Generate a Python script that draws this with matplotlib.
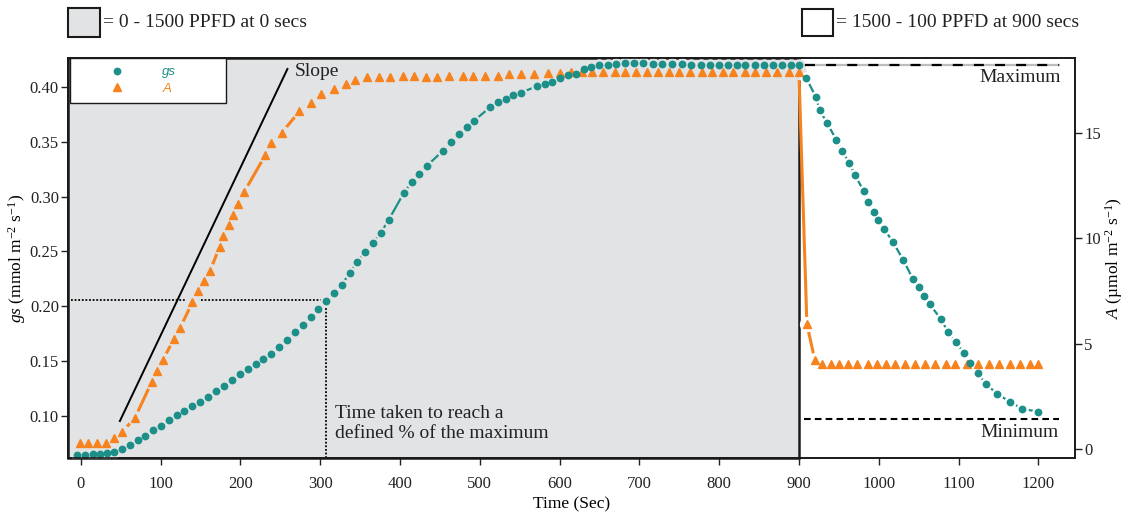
import numpy as np
import matplotlib
matplotlib.use("Agg")
import matplotlib.pyplot as plt
from matplotlib.patches import Rectangle

plt.rcParams['font.family'] = ['Liberation Serif', 'DejaVu Serif']
plt.rcParams['mathtext.fontset'] = 'custom'
plt.rcParams['mathtext.rm'] = 'Liberation Serif'
plt.rcParams['mathtext.it'] = 'Liberation Serif:italic'

# --- data ---
# stomatal conductance gs (left axis), time in seconds
gs_time = [-5, 5, 15, 24, 33, 42, 52, 62, 72, 81, 91, 101, 111, 120, 130, 140, 150, 160,
           170, 179, 189, 199, 209, 219, 228, 238, 248, 258, 268, 278, 288, 297, 307,
           317, 327, 337, 346, 356, 366, 376, 386, 405, 415, 424, 434, 454, 464, 474,
           484, 493, 513, 523, 533, 542, 552, 572, 582, 591, 601, 611, 621, 631, 640,
           650, 661, 671, 682, 693, 704, 717, 729, 741, 753, 765, 777, 788, 800, 811,
           822, 833, 845, 856, 868, 879, 890, 900,
           909, 921, 926, 935, 947, 954, 963, 970, 981, 987, 994, 999, 1007, 1018,
           1031, 1043, 1050, 1057, 1064, 1078, 1087, 1097, 1107, 1115, 1124, 1134,
           1148, 1165, 1180, 1200]
gs_value = [0.0645, 0.0645, 0.0655, 0.0657, 0.0661, 0.0673, 0.0700, 0.0736, 0.0779,
            0.0820, 0.0870, 0.0910, 0.0961, 0.1009, 0.1047, 0.1088, 0.1131, 0.1176,
            0.1231, 0.1276, 0.1328, 0.1380, 0.1426, 0.1474, 0.1517, 0.1565, 0.1627,
            0.1696, 0.1766, 0.1830, 0.1900, 0.1971, 0.2051, 0.2123, 0.2197, 0.2301,
            0.2401, 0.2495, 0.2578, 0.2669, 0.2790, 0.3036, 0.3134, 0.3207, 0.3283,
            0.3419, 0.3498, 0.3571, 0.3635, 0.3693, 0.3815, 0.3866, 0.3894, 0.3927,
            0.3948, 0.4009, 0.4027, 0.4048, 0.4079, 0.4109, 0.4119, 0.4164, 0.4181,
            0.4201, 0.4201, 0.4207, 0.4216, 0.4216, 0.4216, 0.4210, 0.4210, 0.4210,
            0.4210, 0.4201, 0.4201, 0.4201, 0.4201, 0.4201, 0.4201, 0.4201, 0.4201,
            0.4201, 0.4201, 0.4201, 0.4201, 0.4201,
            0.4085, 0.3912, 0.3790, 0.3674, 0.3517, 0.3416, 0.3310, 0.3200, 0.3054,
            0.2954, 0.2857, 0.2787, 0.2705, 0.2584, 0.2420, 0.2247, 0.2179, 0.2094,
            0.2019, 0.1882, 0.1766, 0.1672, 0.1572, 0.1486, 0.1392, 0.1295, 0.1203,
            0.1128, 0.1064, 0.1040]

# net assimilation A (right axis)
a_time = [-1, 9, 20, 32, 42, 52, 68, 89, 96, 103, 117, 124, 140, 147, 154, 162, 174,
          178, 186, 191, 197, 205, 231, 239, 252, 274, 288, 301, 317, 333, 344, 359,
          374, 388, 404, 418, 433, 447, 462, 479, 492, 507, 523, 537, 552, 568, 585,
          601, 614, 628, 641, 655, 669, 682, 696, 710, 723, 737, 750, 764, 778, 791,
          805, 818, 832, 845, 859, 873, 887, 900,
          910, 920, 929, 940, 950, 962, 973, 986, 998, 1009, 1021, 1033, 1045, 1058,
          1070, 1084, 1096, 1111, 1125, 1138, 1151, 1164, 1177, 1189, 1200]
a_value = [0.30, 0.30, 0.30, 0.30, 0.55, 0.83, 1.50, 3.20, 3.71, 4.25, 5.24, 5.73,
           6.97, 7.50, 7.98, 8.45, 9.60, 10.12, 10.63, 11.10, 11.63, 12.21, 13.93,
           14.52, 15.01, 16.02, 16.43, 16.84, 17.08, 17.30, 17.52, 17.63, 17.63,
           17.63, 17.70, 17.70, 17.66, 17.66, 17.69, 17.69, 17.69, 17.69, 17.72,
           17.78, 17.81, 17.81, 17.84, 17.86, 17.87, 17.88, 17.88, 17.88, 17.88,
           17.88, 17.88, 17.88, 17.88, 17.88, 17.88, 17.88, 17.88, 17.88, 17.88,
           17.88, 17.88, 17.88, 17.88, 17.88, 17.88, 17.88,
           5.93, 4.23, 4.03, 4.03, 4.03, 4.03, 4.03, 4.03, 4.03, 4.03, 4.03, 4.03,
           4.03, 4.03, 4.03, 4.03, 4.03, 4.03, 4.03, 4.03, 4.03, 4.03, 4.03, 4.03, 4.03]

light_switch = 900          # high light until this time
slope_x = [49, 259]
slope_y = [0.0954, 0.4164]
target_time = 307           # time to reach the defined %
target_gs = 0.2055
max_gs = 0.4200
min_gs = 0.0970

x_ticks = list(range(0, 1201, 100))
gs_ticks = [0.10, 0.15, 0.20, 0.25, 0.30, 0.35, 0.40]
a_ticks = [0, 5, 10, 15]

teal = '#1b8f88'
orange = '#f7831f'
grey_bg = '#e2e3e5'
ink = '#1a1a1a'
txt_col = '#222222'

fig = plt.figure(figsize=(11.3, 5.13), dpi=100)
ax = fig.add_axes([68 / 1130, 1 - 458 / 513, 1007 / 1130, 400 / 513])
ax2 = ax.twinx()
ax.set_zorder(ax2.get_zorder() + 1)
ax.patch.set_visible(False)

xmin, xmax = -16, 1246
gs_lim = (0.0617, 0.4264)
ax.set_xlim(xmin, xmax)
ax.set_ylim(*gs_lim)
ax2.set_ylim(-0.41, 18.55)
gs_tr = ax.transData   # gs scale, drawn into the lower axes so symbols can layer

# high-light period shading
ax2.axvspan(xmin, light_switch, facecolor=grey_bg, edgecolor=ink, lw=1.8,
            zorder=0, clip_on=False)


def split(t, v):
    t = np.asarray(t)
    v = np.asarray(v)
    m = t <= light_switch
    return (t[m], v[m], grey_bg), (t[~m], v[~m], 'white')


# guide lines (gs scale)
ax2.plot([-12, target_time], [target_gs, target_gs], color='black', lw=1.3,
         dashes=(1, 1), zorder=1, transform=gs_tr)
ax2.plot([target_time, target_time], [gs_lim[0], target_gs], color='black', lw=1.3,
         dashes=(1, 1), zorder=1, transform=gs_tr)

# lines, then background halos (gap to symbol), then symbols
ax2.plot(a_time, a_value, color=orange, lw=2.2, zorder=2)
ax2.plot(gs_time, gs_value, color=teal, lw=1.6, zorder=2, transform=gs_tr)
for t, v, bg in split(a_time, a_value):
    ax2.plot(t, v, ls='none', marker='o', ms=10, color=bg, zorder=3)
for t, v, bg in split(gs_time, gs_value):
    ax2.plot(t, v, ls='none', marker='o', ms=8, color=bg, zorder=3, transform=gs_tr)
a_pts, = ax2.plot(a_time, a_value, ls='none', marker='^', ms=6, color=orange,
                  mec=orange, zorder=4)
gs_pts, = ax2.plot(gs_time, gs_value, ls='none', marker='o', ms=4.6, color=teal,
                   mec=teal, zorder=5, transform=gs_tr)

# annotations
ann = 14
ax.plot(slope_x, slope_y, color='black', lw=1.4, zorder=5)
ax.text(268, 0.4137, 'Slope', fontsize=ann, va='center', ha='left', color=txt_col)
ax.text(318, 0.0932, 'Time taken to reach a\ndefined % of the maximum', fontsize=ann,
        va='center', ha='left', linespacing=1.25, color=txt_col)

ax.plot([908, 1226], [max_gs, max_gs], color='#bdbdbd', lw=1.6, zorder=1)
ax.plot([908, 1226], [max_gs, max_gs], color='black', lw=1.6, dashes=(4.5, 5), zorder=1)
ax.text(1228, 0.4082, 'Maximum', fontsize=ann, va='center', ha='right', color=txt_col)
ax.plot([907, 1226], [min_gs, min_gs], color='black', lw=1.5, dashes=(3.2, 2.0), zorder=1)
ax.text(1226, 0.0845, 'Minimum', fontsize=ann, va='center', ha='right', color=txt_col)

# axes styling
for a in (ax, ax2):
    for s in a.spines.values():
        s.set_linewidth(1.2)
        s.set_color(ink)
ax.set_xticks(x_ticks)
ax.set_yticks(gs_ticks)
ax.set_yticklabels([f'{v:.2f}' for v in gs_ticks])
ax2.set_yticks(a_ticks)
ax.tick_params(axis='x', direction='out', length=5, width=1, labelsize=12,
               colors=txt_col, pad=8)
ax.tick_params(axis='y', direction='out', length=5, width=1, labelsize=12,
               colors=txt_col, pad=1.5)
ax2.tick_params(direction='out', length=5, width=1, labelsize=12, colors=txt_col, pad=1.5)
ax.set_xlabel('Time (Sec)', fontsize=12.5, labelpad=3)
ax.set_ylabel(r'$\mathit{gs}$ (mmol m$^{-2}$ s$^{-1}$)', fontsize=12.5, labelpad=1)
ax2.set_ylabel(r'$\mathit{A}$ (µmol m$^{-2}$ s$^{-1}$)', fontsize=12.5, labelpad=2)

leg = ax.legend([gs_pts, a_pts], ['gs', 'A'], loc='upper left',
                bbox_to_anchor=(0.002, 0.0, 0.155, 1.0), mode='expand',
                borderaxespad=0, borderpad=0.6, handlelength=5.9, handletextpad=0.5,
                labelspacing=0.35, numpoints=1, fancybox=False, framealpha=1,
                edgecolor=ink, prop={'family': 'Liberation Sans', 'style': 'italic',
                                     'size': 9.5})
leg.get_frame().set_linewidth(1.0)
for txt, c in zip(leg.get_texts(), [teal, orange]):
    txt.set_color(c)

# key boxes above the plot
W, H = 1130, 513
fig.patches.append(Rectangle((68 / W, 1 - 37 / H), 32 / W, 29 / H, transform=fig.transFigure,
                             facecolor=grey_bg, edgecolor=ink, lw=1.5))
fig.text(103 / W, 1 - 23 / H, '= 0 - 1500 PPFD at 0 secs', fontsize=ann, va='center',
         color=txt_col)
fig.patches.append(Rectangle((802 / W, 1 - 36 / H), 31 / W, 27 / H, transform=fig.transFigure,
                             facecolor='white', edgecolor=ink, lw=1.5))
fig.text(836 / W, 1 - 23 / H, '= 1500 - 100 PPFD at 900 secs', fontsize=ann,
         va='center', color=txt_col)

fig.savefig('out.png', dpi=100)
